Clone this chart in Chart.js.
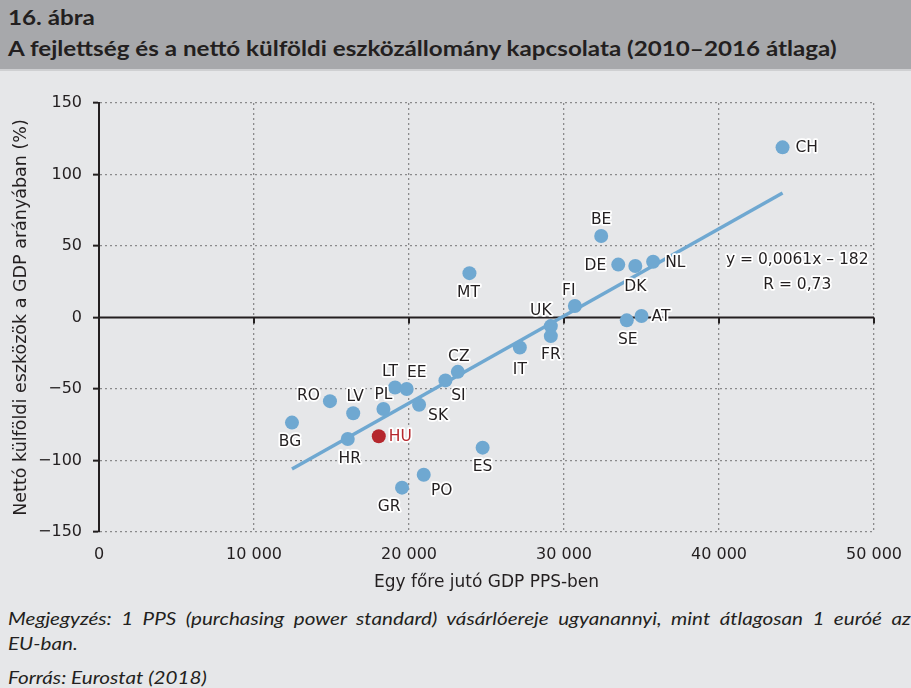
<!DOCTYPE html>
<html>
<head>
<meta charset="utf-8">
<script src="https://cdn.jsdelivr.net/npm/chart.js@4"></script>
<style>
  html, body { margin: 0; padding: 0; }
  body { width: 911px; height: 688px; background: #e6e7e9; position: relative; overflow: hidden; color: #231f20; }
  #head { position: absolute; left: 0; top: 0; width: 911px; height: 69px; background: #a7a8ab; border-bottom: 2px solid #cfd0d2; }
  #head div { position: absolute; left: 8px; font-family: Lato, sans-serif; font-weight: bold; font-size: 20px; white-space: nowrap;
    transform: scaleX(1.21); transform-origin: left center; }
  #chart { position: absolute; left: 0; top: 0; }
  .note { position: absolute; left: 8px; font-family: Lato, sans-serif; font-style: italic; font-size: 17px; white-space: nowrap;
    transform: scaleX(1.215); transform-origin: left center; }
</style>
</head>
<body>
<div id="head">
  <div style="top:5px">16. ábra</div>
  <div style="top:36px">A fejlettség és a nettó külföldi eszközállomány kapcsolata (2010–2016 átlaga)</div>
</div>
<canvas id="chart" width="911" height="600"></canvas>
<div class="note" style="top:608px;word-spacing:3.8px">Megjegyzés: 1 PPS (purchasing power standard) vásárlóereje ugyanannyi, mint átlagosan 1 euróé az</div>
<div class="note" style="top:633px">EU-ban.</div>
<div class="note" style="top:667px">Forrás: Eurostat (2018)</div>
<script>
// Country codes, GDP per capita (PPS) and net foreign assets (% of GDP), 2010–2016 average
const COUNTRIES = ["CH", "BE", "DE", "DK", "NL", "FI", "UK", "FR", "SE", "AT", "IT", "MT", "CZ",
  "SI", "SK", "LT", "EE", "PL", "LV", "RO", "BG", "HR", "HU", "ES", "PO", "GR"];
const GDP_PPS = [44100, 32400, 33500, 34600, 35750, 30700, 29150, 29150, 34050, 35000, 27150, 23900, 23150,
  22350, 20650, 19100, 19850, 18350, 16400, 14900, 12450, 16050, 18050, 24750, 20950, 19550];
const NFA = [119, 57, 37, 36, 39, 8, -6, -13, -2, 1, -21, 31, -38,
  -44, -61, -49, -50, -64, -67, -58.5, -73.5, -85, -83, -91, -110, -119];

// Linear trend end points (y = 0,0061x – 182)
const TREND_X = [12450, 44100];
const TREND_Y = [-106, 87];
const TREND_TEXT = ["y = 0,0061x – 182", "R = 0,73"];

const X_TICKS = [0, 10000, 20000, 30000, 40000, 50000];

const BLUE = "#6fa8d1";
const RED = "#b5272d";
const INK = "#231f20";
const GRID = "#8a8a8c";

// label placement next to each dot: [dx, dy, align]
const LABEL_POS = {
  CH: [13, 0, "left"], BE: [0, -17, "center"], DE: [-12, 0, "right"], DK: [0, 20, "center"],
  NL: [12, 0, "left"], FI: [-6, -16, "center"], UK: [-10, -16, "center"], FR: [0, 18, "center"],
  SE: [1, 19, "center"], AT: [10, 0, "left"], IT: [0, 21, "center"], MT: [-1, 19, "center"],
  CZ: [1, -16, "center"], SI: [13, 15, "center"], SK: [19, 10, "center"], LT: [-5, -17, "center"],
  EE: [10, -17, "center"], PL: [0, -15, "center"], LV: [2, -17, "center"], RO: [-10, -6, "right"],
  BG: [-2, 18, "center"], HR: [2, 19, "center"], HU: [10, 0, "left"], ES: [0, 18, "center"],
  PO: [18, 15, "center"], GR: [-13, 18, "center"],
};

const FONT = "'DejaVu Sans', sans-serif";

const fmtThousands = (v) => String(Math.abs(v)).replace(/\B(?=(\d{3})+(?!\d))/g, " ");

function haloText(ctx, text, x, y, color) {
  ctx.lineWidth = 3.5;
  ctx.strokeStyle = "#ffffff";
  ctx.lineJoin = "round";
  ctx.strokeText(text, x, y);
  ctx.fillStyle = color;
  ctx.fillText(text, x, y);
}

// zero line with its small ticks, drawn under the dots
const zeroAxis = {
  id: "zeroAxis",
  beforeDatasetsDraw(chart) {
    const { ctx, chartArea, scales: { x, y } } = chart;
    const y0 = y.getPixelForValue(0);
    ctx.save();
    ctx.strokeStyle = INK;
    ctx.lineWidth = 2;
    ctx.beginPath();
    ctx.moveTo(chartArea.left, y0);
    ctx.lineTo(chartArea.right, y0);
    X_TICKS.forEach((t) => {
      const px = x.getPixelForValue(t);
      ctx.moveTo(px, y0);
      ctx.lineTo(px, y0 + 6);
    });
    ctx.stroke();
    ctx.restore();
  },
};

const pointLabels = {
  id: "pointLabels",
  afterDatasetsDraw(chart) {
    const { ctx, scales: { x, y } } = chart;
    const meta = chart.getDatasetMeta(0);
    ctx.save();
    ctx.font = "15.5px " + FONT;
    ctx.textBaseline = "middle";
    meta.data.forEach((pt, i) => {
      const code = COUNTRIES[i];
      const [dx, dy, align] = LABEL_POS[code];
      ctx.textAlign = align;
      haloText(ctx, code, pt.x + dx, pt.y + dy + 1, code === "HU" ? RED : INK);
    });
    ctx.textAlign = "center";
    const cx = x.getPixelForValue(45050);
    haloText(ctx, TREND_TEXT[0], cx, y.getPixelForValue(41) + 1, INK);
    haloText(ctx, TREND_TEXT[1], cx, y.getPixelForValue(23.5) + 1, INK);
    ctx.restore();
  },
};

new Chart(document.getElementById("chart"), {
  data: {
    datasets: [
      {
        type: "scatter",
        label: "Országok",
        data: COUNTRIES.map((c, i) => ({ x: GDP_PPS[i], y: NFA[i] })),
        backgroundColor: COUNTRIES.map((c) => (c === "HU" ? RED : BLUE)),
        borderWidth: 0,
        pointRadius: 7,
        order: 1,
      },
      {
        type: "line",
        label: "Trend",
        data: TREND_X.map((v, i) => ({ x: v, y: TREND_Y[i] })),
        borderColor: BLUE,
        borderWidth: 3.5,
        pointRadius: 0,
        fill: false,
        order: 2,
      },
    ],
  },
  options: {
    responsive: false,
    animation: false,
    layout: { padding: { top: 103, right: 37, left: 0, bottom: 0 } },
    plugins: { legend: { display: false }, tooltip: { enabled: false } },
    scales: {
      x: {
        type: "linear",
        min: 0,
        max: 50000,
        afterBuildTicks: (s) => { s.ticks = X_TICKS.map((v) => ({ value: v })); },
        afterFit: (s) => { s.height = 68; s.paddingLeft = 0; s.paddingRight = 0; },
        ticks: {
          color: INK,
          font: { family: FONT, size: 16 },
          padding: 13,
          maxRotation: 0,
          callback: (v) => fmtThousands(v),
        },
        grid: { color: GRID, lineWidth: 1.3, drawTicks: false },
        border: { display: false, dash: [2, 3] },
        title: {
          display: true,
          text: "Egy főre jutó GDP PPS-ben",
          color: INK,
          font: { family: FONT, size: 17 },
          padding: { top: 0, bottom: 7 },
        },
      },
      y: {
        min: -150,
        max: 150,
        afterFit: (s) => { s.width = 99; s.paddingTop = 0; s.paddingBottom = 0; },
        ticks: {
          stepSize: 50,
          color: INK,
          font: { family: FONT, size: 16 },
          padding: 11,
          callback: (v) => (v < 0 ? "\u2212" : "") + Math.abs(v),
        },
        grid: {
          color: (c) => (c.tick && c.tick.value === 0 ? "rgba(0,0,0,0)" : GRID),
          lineWidth: 1.3,
          tickLength: 6,
          tickColor: INK,
          tickWidth: 2,
          tickBorderDash: [],
        },
        border: { display: true, color: INK, width: 2, dash: [2, 3] },
        title: {
          display: true,
          text: "Nettó külföldi eszközök a GDP arányában (%)",
          color: INK,
          font: { family: FONT, size: 17.5 },
          padding: { top: 11, bottom: 0 },
        },
      },
    },
  },
  plugins: [zeroAxis, pointLabels],
});
</script>
</body>
</html>
